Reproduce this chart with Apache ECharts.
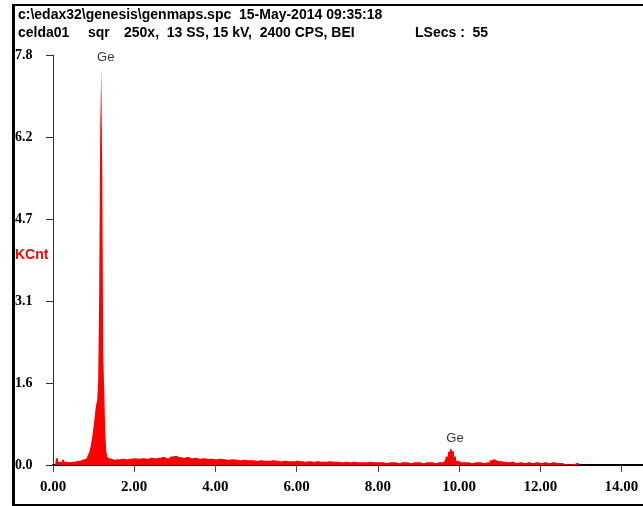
<!DOCTYPE html>
<html>
<head>
<meta charset="utf-8">
<script src="https://cdn.jsdelivr.net/npm/echarts@6/dist/echarts.min.js"></script>
<style>
  html, body { margin: 0; padding: 0; background: #fff; }
  #chart { width: 643px; height: 506px; }
</style>
</head>
<body>
<div id="chart"></div>
<script>
// spectrum: energy (keV) and counts (KCnt)
const energy = [
  0.00, 0.05, 0.10, 0.15, 0.20, 0.25, 0.30, 0.35, 0.40, 0.45,
  0.50, 0.55, 0.60, 0.65, 0.70, 0.75, 0.80, 0.85, 0.875, 0.90,
  0.925, 0.95, 0.975, 1.00, 1.025, 1.05, 1.075, 1.10, 1.125, 1.15,
  1.175, 1.20, 1.225, 1.25, 1.275, 1.30, 1.325, 1.35, 1.375, 1.40,
  1.5, 1.6, 1.7, 1.8, 1.9, 2.0, 2.1, 2.2, 2.3, 2.4,
  2.5, 2.6, 2.7, 2.8, 2.9, 3.0, 3.1, 3.2, 3.3, 3.4,
  3.5, 3.6, 3.7, 3.8, 3.9, 4.0, 4.1, 4.2, 4.3, 4.4,
  4.5, 4.6, 4.7, 4.8, 4.9, 5.0, 5.1, 5.2, 5.3, 5.4,
  5.5, 5.6, 5.7, 5.8, 5.9, 6.0, 6.1, 6.2, 6.3, 6.4,
  6.5, 6.6, 6.7, 6.8, 6.9, 7.0, 7.1, 7.2, 7.3, 7.4,
  7.5, 7.6, 7.7, 7.8, 7.9, 8.0, 8.1, 8.2, 8.3, 8.4,
  8.5, 8.6, 8.7, 8.8, 8.9, 9.0, 9.1, 9.2, 9.3, 9.4,
  9.5, 9.6, 9.65, 9.70, 9.75, 9.80, 9.85, 9.90, 9.95, 10.0,
  10.1, 10.2, 10.3, 10.4, 10.5, 10.6, 10.7, 10.8, 10.85, 10.9,
  10.95, 11.0, 11.1, 11.2, 11.3, 11.4, 11.5, 11.6, 11.7, 11.8,
  11.9, 12.0, 12.1, 12.2, 12.3, 12.4, 12.5, 12.6, 12.7, 12.8,
  12.9, 13.0
]
const kcnt = [
  0, 0, 0.13, 0.06, 0.05, 0.10, 0.06, 0.05, 0.05, 0.06,
  0.06, 0.07, 0.08, 0.08, 0.10, 0.11, 0.13, 0.16, 0.20, 0.24,
  0.30, 0.40, 0.52, 0.66, 0.82, 1.00, 1.15, 1.22, 1.60, 3.30,
  6.35, 7.55, 5.60, 2.10, 1.40, 0.60, 0.25, 0.15, 0.13, 0.12,
  0.10, 0.11, 0.12, 0.11, 0.12, 0.13, 0.12, 0.13, 0.12, 0.14,
  0.13, 0.14, 0.15, 0.13, 0.16, 0.17, 0.15, 0.14, 0.15, 0.13,
  0.14, 0.12, 0.13, 0.12, 0.12, 0.11, 0.12, 0.11, 0.10, 0.11,
  0.10, 0.09, 0.10, 0.09, 0.09, 0.08, 0.09, 0.08, 0.08, 0.09,
  0.08, 0.07, 0.08, 0.07, 0.07, 0.08, 0.07, 0.06, 0.07, 0.06,
  0.07, 0.06, 0.06, 0.07, 0.06, 0.06, 0.05, 0.06, 0.05, 0.06,
  0.05, 0.05, 0.05, 0.06, 0.05, 0.05, 0.05, 0.04, 0.05, 0.05,
  0.04, 0.05, 0.05, 0.04, 0.05, 0.05, 0.04, 0.05, 0.05, 0.04,
  0.05, 0.05, 0.08, 0.16, 0.25, 0.30, 0.26, 0.16, 0.08, 0.05,
  0.05, 0.05, 0.04, 0.05, 0.05, 0.04, 0.05, 0.09, 0.11, 0.10,
  0.08, 0.07, 0.06, 0.05, 0.06, 0.04, 0.05, 0.04, 0.05, 0.04,
  0.05, 0.04, 0.05, 0.04, 0.05, 0.04, 0.04, 0.02, 0.01, 0.02,
  0.04, 0
]
// peak markers
const peakNames = ['Ge', 'Ge']
const peakEnergy = [1.20, 9.80]
const peakKcnt = [7.55, 0.30]

const xTicks = { min: 0, max: 14.53, interval: 2 }
const yTicks = { min: 0, max: 7.8, interval: 1.56 }

const headerLine1 = 'c:\\edax32\\genesis\\genmaps.spc  15-May-2014 09:35:18'
const headerLine2 = ['celda01', 'sqr', '250x,  13 SS, 15 kV,  2400 CPS, BEI', 'LSecs :  55']

const chart = echarts.init(document.getElementById('chart'))

const hdrFont = { fontFamily: '"Liberation Sans", Arial', fontWeight: 'bold', fontSize: 14, fill: '#000' }
const serif = '"Liberation Serif", "Times New Roman", serif'

chart.setOption({
  animation: false,
  grid: { left: 53, right: 0, top: 55, bottom: 41 },
  graphic: [
    // frame
    { type: 'line', shape: { x1: 13.5, y1: 4, x2: 13.5, y2: 506 }, style: { stroke: '#000', lineWidth: 3 } },
    { type: 'line', shape: { x1: 12, y1: 5, x2: 643, y2: 5 }, style: { stroke: '#000', lineWidth: 2 } },
    { type: 'line', shape: { x1: 12, y1: 505, x2: 643, y2: 505 }, style: { stroke: '#000', lineWidth: 2 } },
    // header
    { type: 'text', left: 18, top: 8, style: Object.assign({ text: headerLine1 }, hdrFont) },
    { type: 'text', left: 18, top: 26, style: Object.assign({ text: headerLine2[0] }, hdrFont) },
    { type: 'text', left: 88, top: 26, style: Object.assign({ text: headerLine2[1] }, hdrFont) },
    { type: 'text', left: 124, top: 26, style: Object.assign({ text: headerLine2[2] }, hdrFont) },
    { type: 'text', left: 415, top: 26, style: Object.assign({ text: headerLine2[3] }, hdrFont) },
    // axis unit
    { type: 'text', left: 15, top: 248, style: { text: 'KCnt', fill: '#ff0000', fontFamily: '"Liberation Sans", Arial', fontWeight: 'bold', fontSize: 14 } }
  ],
  xAxis: {
    type: 'value',
    min: xTicks.min,
    max: xTicks.max,
    interval: xTicks.interval,
    axisLine: { lineStyle: { color: '#000', width: 2 } },
    axisTick: { length: 7, lineStyle: { color: '#444' } },
    axisLabel: { margin: 15, formatter: v => v.toFixed(2), fontFamily: serif, fontWeight: 'bold', fontSize: 15, color: '#000' },
    splitLine: { show: false }
  },
  yAxis: {
    type: 'value',
    min: yTicks.min,
    max: yTicks.max,
    interval: yTicks.interval,
    offset: 2,
    axisLine: { show: true, lineStyle: { color: '#333', width: 1 } },
    axisTick: { show: true, length: 7, lineStyle: { color: '#333' } },
    axisLabel: { margin: 36, align: 'left', formatter: v => v.toFixed(1), fontFamily: serif, fontWeight: 'bold', fontSize: 14, color: '#000' },
    splitLine: { show: false }
  },
  series: [
    {
      type: 'line',
      step: 'middle',
      symbol: 'none',
      sampling: 'none',
      lineStyle: { width: 0 },
      areaStyle: { color: '#ff0000', opacity: 1 },
      data: energy.map((e, i) => [e, kcnt[i]]),
      z: 3
    },
    {
      type: 'scatter',
      symbolSize: 1,
      itemStyle: { color: 'rgba(0,0,0,0)' },
      label: {
        show: true,
        position: 'top',
        distance: 4,
        offset: [4, 0],
        formatter: p => peakNames[p.dataIndex],
        fontFamily: '"Liberation Sans", Arial',
        fontSize: 13,
        color: '#000'
      },
      data: peakEnergy.map((e, i) => [e, peakKcnt[i]]),
      z: 4
    }
  ]
})
</script>
</body>
</html>
